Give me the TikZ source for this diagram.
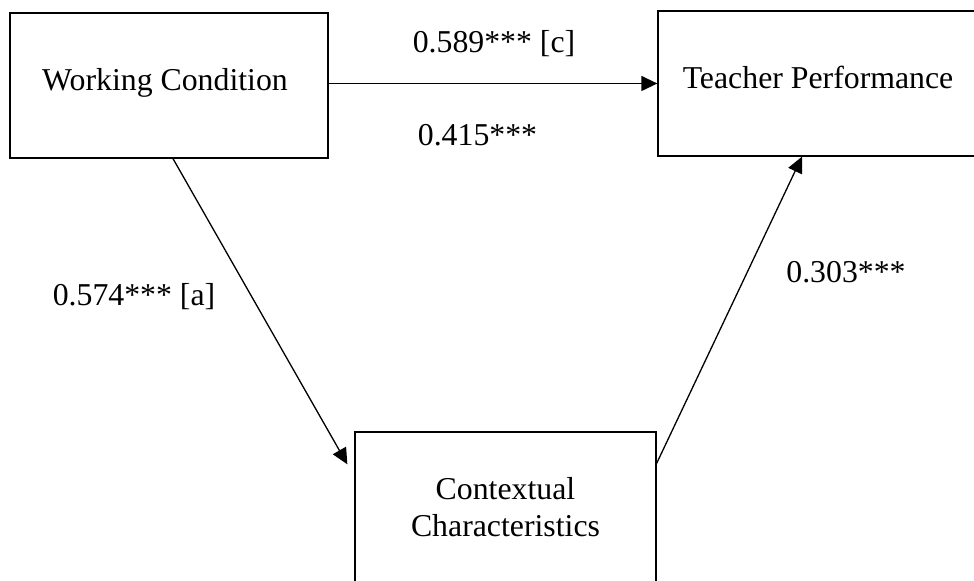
\documentclass[tikz,border=0pt]{standalone}
\usepackage{fontspec}
\setmainfont{Liberation Serif}
\usetikzlibrary{arrows.meta, calc, positioning}

\tikzset{
    box/.style={draw, line width=0.65pt, rectangle, align=center, inner sep=0pt},
    onebox/.style={box, text height=11pt, text depth=5.5pt},
    link/.style={line width=0.65pt, -{Triangle[length=8pt,width=7.5pt]}},
    coef/.style={inner sep=0pt}
}

\begin{document}
\begin{tikzpicture}[x=0.5pt, y=-0.5pt, font=\fontsize{15.9}{18.5}\selectfont]
                    \useasboundingbox (0, 0) rectangle (974, 581);
                    \clip (0, 0) rectangle (974, 581);

                    \node [onebox, minimum width=159pt, minimum height=72.5pt] (Nwc) at (169, 85.5) { Working Condition };
                    \node [onebox, minimum width=164pt, minimum height=72.5pt] (Ntp) at (822, 83.5) { Teacher Performance };
                    \node [box, minimum width=150.5pt, minimum height=75pt] (Ncc) at (505.5, 507) { Contextual\\Characteristics };

                    \draw [link] (Nwc.east |- Ntp.west) -- (Ntp.west);
                    \draw [link] ($(Nwc.south)+(4, 0)$) -- ($(Ncc.north west)+(-7, 33)$);
                    \draw [link] ($(Ncc.north east)+(0, 32)$) -- ($(Ntp.south)+(-20, 0)$);

                    \node [coef] (Lc) at (494, 44) { 0.589*** [c] };
                    \node [coef] (Lcp) at (477.5, 135) { 0.415*** };
                    \node [coef] (La) at (134, 297) { 0.574*** [a] };
                    \node [coef] (Lb) at (846, 272.5) { 0.303*** };
            \end{tikzpicture}
\end{document}
